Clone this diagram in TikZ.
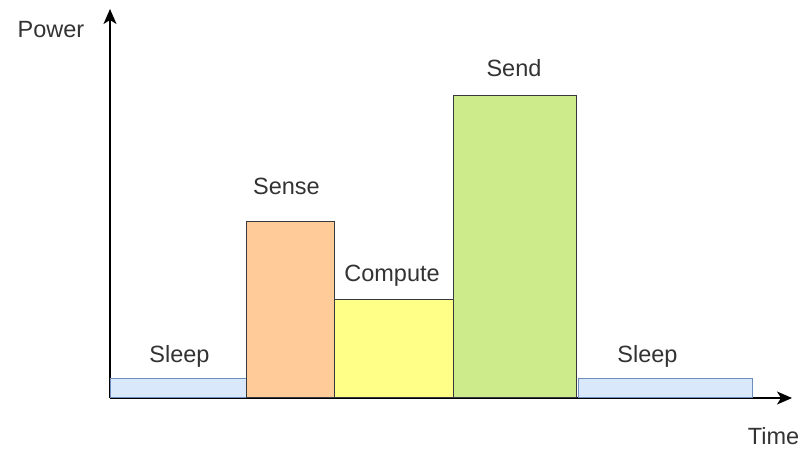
\documentclass[tikz,border=0pt]{standalone}
\usepackage{fontspec}
\setmainfont{Liberation Sans}
\usepackage{tikz}
\usetikzlibrary{arrows.meta,positioning,calc}

\definecolor{sleepfill}{HTML}{DAE8FC}
\definecolor{sleepline}{HTML}{6C8EBF}
\definecolor{sensefill}{HTML}{FFCC99}
\definecolor{computefill}{HTML}{FFFF88}
\definecolor{sendfill}{HTML}{CDEB8B}
\definecolor{barline}{HTML}{36393D}
\definecolor{labeltext}{HTML}{333333}

\tikzset{
  bar/.style={draw=barline, line width=1.3pt, rectangle, inner sep=0pt,
    anchor=south west},
  sleepbar/.style={bar, draw=sleepline, fill=sleepfill},
  phase/.style={text=labeltext, font=\fontsize{23.5}{28}\selectfont,
    inner sep=0pt, anchor=base},
  axis/.style={line width=1.5pt, -{Stealth[length=15pt,width=13pt,inset=4pt]}}
}

\begin{document}
\begin{tikzpicture}[x=1pt,y=-1pt]
      \useasboundingbox (0,0) rectangle (805,450);
      % axes
      \coordinate (origin) at (110,398);
      \coordinate (ytop) at (110,9);
      \coordinate (xend) at (792,398);
      \draw [axis] (origin) -- (ytop);
      \draw [axis] (origin) -- (xend);
      \node [phase] (power) at (51,37) {Power};
      \node [phase] (time) at (773.5,444) {Time};
      % bars
      \node [sleepbar, minimum width=136pt, minimum height=19pt] (sleepA) at (110,398) {};
      \node [bar, fill=sensefill, minimum width=88pt, minimum height=176pt] (sense) at (246,398) {};
      \node [bar, fill=computefill, minimum width=119pt, minimum height=98pt] (compute) at (334,398) {};
      \node [bar, fill=sendfill, minimum width=123pt, minimum height=302pt] (send) at (453,398) {};
      \node [sleepbar, minimum width=174pt, minimum height=19pt] (sleepB) at (578,398) {};
      % labels
      \node [phase] (sleepAlabel) at (179.5,362) {Sleep};
      \node [phase] (senselabel) at (286.5,194) {Sense};
      \node [phase] (computelabel) at (392,281) {Compute};
      \node [phase] (sendlabel) at (514,76) {Send};
      \node [phase] (sleepBlabel) at (647.5,362) {Sleep};
\end{tikzpicture}
\end{document}
